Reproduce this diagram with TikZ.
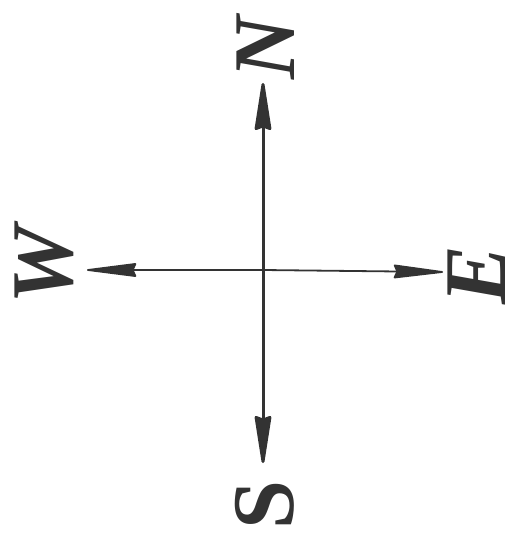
\documentclass[tikz,border=0pt]{standalone}
\usepackage{fontspec}
\setmainfont{Liberation Serif}
\usetikzlibrary{arrows.meta}
\begin{document}
\begin{tikzpicture}[x=1pt,y=-1pt,
  vaxis/.style={draw=black!80, line width=3pt, arrows={-Stealth[length=56pt,width=17pt,inset=3pt,round]}},
  haxis/.style={draw=black!80, line width=1.8pt, arrows={-Stealth[length=56pt,width=14pt,inset=3pt,round]}},
  letter/.style={inner sep=0pt, rotate=90, font=\fontsize{88}{88}\selectfont\bfseries, text=black!80}]
\useasboundingbox (0,0) rectangle (525,545);
\coordinate (c) at (263,270);
\node[letter] (n) at (266,48) {\itshape N};
\node[letter] (w) at (44,265) {\itshape W};
\node[letter] (e) at (477,275) {\itshape E};
\node[letter] (s) at (265,505) {S};
\coordinate (nt) at (263,83);
\coordinate (st) at (263,463);
\coordinate (wt) at (87,270);
\coordinate (et) at (443,272);
\draw[vaxis] (c) -- (nt);
\draw[vaxis] (c) -- (st);
\draw[haxis] (c) -- (wt);
\draw[haxis] (c) -- (et);
\end{tikzpicture}
\end{document}
